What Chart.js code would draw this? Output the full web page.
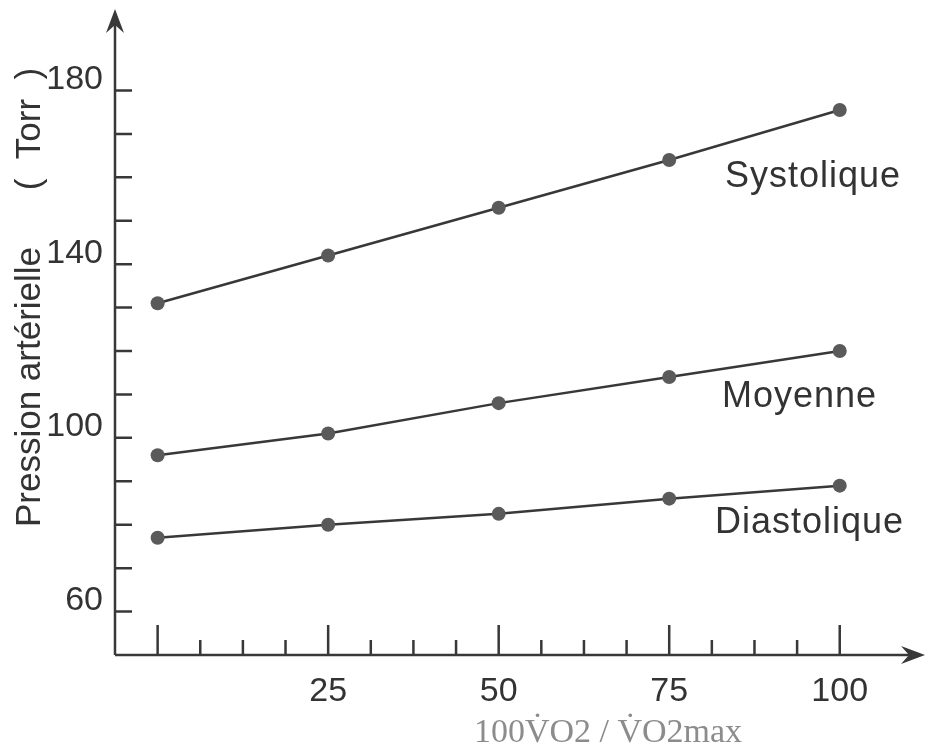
<!DOCTYPE html>
<html lang="fr">
<head>
<meta charset="utf-8">
<title>Pression artérielle</title>
<script src="https://cdn.jsdelivr.net/npm/chart.js@4.4.1/dist/chart.umd.min.js"></script>
<style>
  html, body { margin:0; padding:0; background:#fff; }
</style>
</head>
<body>
<canvas id="graphique" width="939" height="753"></canvas>
<script>
// valeurs (Torr)
const abscisses = [0, 25, 50, 75, 100];
const systolique = [131, 142, 153, 164, 175.5];
const moyenne = [96, 101, 108, 114, 120];
const diastolique = [77, 80, 82.5, 86, 89];
const nomsSeries = ["Systolique", "Moyenne", "Diastolique"];

const etiquettesX = [25, 50, 75, 100];
const etiquettesY = [60, 100, 140, 180];
const titreY = ["Pression artérielle", "(  Torr  )"];
const titreX = "100V\u0307O2 / V\u0307O2max";

const police = "'Liberation Sans', Arial, sans-serif";
const couleurTrait = "#383838";

const axesEtTextes = {
  id: "axesEtTextes",
  afterDraw(chart) {
    const ctx = chart.ctx;
    const sx = chart.scales.x, sy = chart.scales.y;
    const gauche = chart.chartArea.left, bas = chart.chartArea.bottom;
    const haut = 9, droite = chart.chartArea.right;

    ctx.save();
    ctx.strokeStyle = couleurTrait;
    ctx.fillStyle = couleurTrait;
    ctx.lineWidth = 2.5;

    // axes
    ctx.beginPath();
    ctx.moveTo(gauche, bas); ctx.lineTo(gauche, haut + 10);
    ctx.moveTo(gauche, bas); ctx.lineTo(droite - 10, bas);
    ctx.stroke();

    // flèches
    ctx.beginPath();
    ctx.moveTo(gauche, haut); ctx.lineTo(gauche - 9, haut + 24); ctx.lineTo(gauche, haut + 16); ctx.lineTo(gauche + 9, haut + 24);
    ctx.closePath(); ctx.fill();
    ctx.beginPath();
    ctx.moveTo(droite, bas); ctx.lineTo(droite - 24, bas - 9); ctx.lineTo(droite - 16, bas); ctx.lineTo(droite - 24, bas + 9);
    ctx.closePath(); ctx.fill();

    // graduations vers l'intérieur
    ctx.beginPath();
    sy.ticks.forEach(t => {
      if (t.value < 60 || t.value > 180) return;
      const py = sy.getPixelForValue(t.value);
      ctx.moveTo(gauche, py); ctx.lineTo(gauche + 17, py);
    });
    sx.ticks.forEach(t => {
      if (t.value < 0 || t.value > 100) return;
      const px = sx.getPixelForValue(t.value);
      const lg = (t.value % 25 === 0) ? 30 : 15;
      ctx.moveTo(px, bas); ctx.lineTo(px, bas - lg);
    });
    ctx.stroke();

    // noms des courbes
    ctx.font = "36px " + police;
    ctx.letterSpacing = "1px";
    ctx.fillStyle = "#333";
    ctx.textAlign = "left";
    ctx.textBaseline = "alphabetic";
    ctx.fillText(nomsSeries[0], 725, 187);
    ctx.fillText(nomsSeries[1], 722, 407);
    ctx.fillText(nomsSeries[2], 715, 533);
    ctx.letterSpacing = "0px";

    // titre vertical
    ctx.save();
    ctx.translate(40, 0);
    ctx.rotate(-Math.PI / 2);
    ctx.font = "35px " + police;
    ctx.textAlign = "center";
    ctx.fillText(titreY[0], -387, 0);
    ctx.fillText(titreY[1], -129, 0);
    ctx.restore();

    // titre horizontal
    ctx.font = "34px 'Liberation Serif', 'Times New Roman', serif";
    ctx.fillStyle = "#8c8c8c";
    ctx.textAlign = "center";
    ctx.textBaseline = "middle";
    ctx.fillText(titreX, 608, 733);

    ctx.restore();
  }
};

const series = [systolique, moyenne, diastolique];

new Chart(document.getElementById("graphique"), {
  type: "line",
  data: {
    datasets: series.map((vals, i) => ({
      label: nomsSeries[i],
      data: abscisses.map((a, k) => ({ x: a, y: vals[k] })),
      borderColor: couleurTrait,
      borderWidth: 2.5,
      pointRadius: 7,
      pointBackgroundColor: "#5a5a5a",
      pointBorderWidth: 0,
      tension: 0
    }))
  },
  options: {
    responsive: false,
    animation: false,
    layout: { padding: { top: 0, right: 14 } },
    plugins: { legend: { display: false }, tooltip: { enabled: false } },
    scales: {
      x: {
        type: "linear",
        min: -6.25,
        max: 112.5,
        grid: { display: false },
        border: { display: false },
        afterFit: s => { s.height = 98; },
        ticks: {
          stepSize: 6.25,
          autoSkip: false,
          maxRotation: 0,
          padding: 8,
          color: "#333",
          font: { family: police, size: 34 },
          callback: v => etiquettesX.includes(v) ? String(v) : ""
        }
      },
      y: {
        min: 50,
        max: 198.5,
        grid: { display: false },
        border: { display: false },
        afterFit: s => { s.width = 115; },
        ticks: {
          stepSize: 10,
          autoSkip: false,
          padding: 4,
          labelOffset: -11,
          color: "#333",
          font: { family: police, size: 34, lineHeight: 0.36 },
          callback: v => etiquettesY.includes(v) ? String(v) : ""
        }
      }
    }
  },
  plugins: [axesEtTextes]
});
</script>
</body>
</html>
